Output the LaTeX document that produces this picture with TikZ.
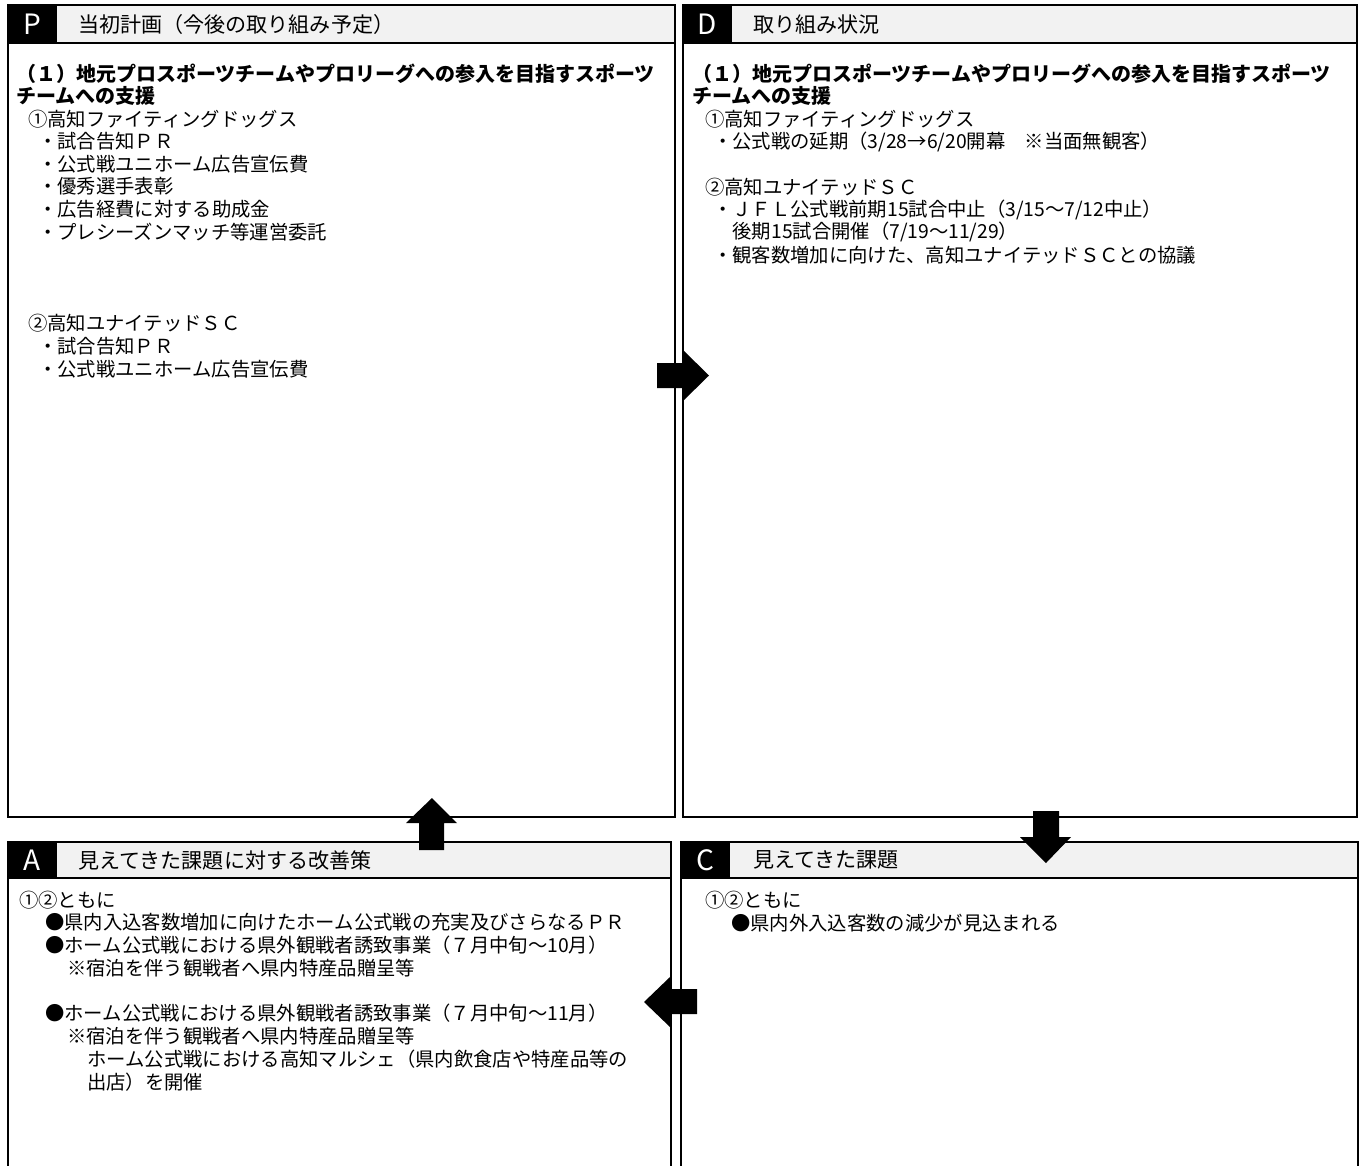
\documentclass[tikz,border=0pt]{standalone}
\usepackage{fontspec}
\setmainfont{Noto Sans CJK JP}
\usetikzlibrary{positioning}
\definecolor{headgray}{HTML}{F2F2F2}

\begin{document}
\begin{tikzpicture}[x=0.75pt,y=-0.75pt,
	frame/.style = {draw,line width=1.2pt},
	head/.style = {draw,line width=1.2pt,fill=headgray},
	tag/.style = {fill=black,text=white,inner sep=0pt,minimum width=36.75pt,minimum height=28.5pt,font=\fontsize{21}{21}\selectfont},
	title/.style = {anchor=west,inner sep=0pt,font=\fontsize{15.8}{18}\selectfont},
	txt/.style = {anchor=west,inner sep=0pt,font=\fontsize{14.5}{17}\selectfont},
	bold/.style = {anchor=west,inner sep=0pt,font=\fontsize{15}{17}\selectfont\bfseries}]
	\useasboundingbox (0,0) rectangle (1361,1165);

	% P: plan
	\draw [head] (8,5) rectangle (675,43);
	\draw [frame] (8,43) rectangle (675,817);
	\node (ptag) at (32.5,24) [tag] {P};
	\node (ptitle) at (78,24) [title] {当初計画（今後の取り組み予定）};
	\node (p1) at (16,74) [bold] {（１）地元プロスポーツチームやプロリーグへの参入を目指すスポーツ};
	\node (p2) at (16,96) [bold] {チームへの支援};
	\node (p3) at (28,119) [txt] {①高知ファイティングドッグス};
	\node (p4) at (38,141) [txt] {・試合告知ＰＲ};
	\node (p5) at (38,164) [txt] {・公式戦ユニホーム広告宣伝費};
	\node (p6) at (38,186) [txt] {・優秀選手表彰};
	\node (p7) at (38,209) [txt] {・広告経費に対する助成金};
	\node (p8) at (38,232) [txt] {・プレシーズンマッチ等運営委託};
	\node (p9) at (28,323) [txt] {②高知ユナイテッドＳＣ};
	\node (p10) at (38,346) [txt] {・試合告知ＰＲ};
	\node (p11) at (38,369) [txt] {・公式戦ユニホーム広告宣伝費};

	% D: do
	\draw [head] (683,5) rectangle (1357,43);
	\draw [frame] (683,43) rectangle (1357,817);
	\node (dtag) at (707.5,24) [tag] {D};
	\node (dtitle) at (753,24) [title] {取り組み状況};
	\node (d1) at (692,74) [bold] {（１）地元プロスポーツチームやプロリーグへの参入を目指すスポーツ};
	\node (d2) at (692,96) [bold] {チームへの支援};
	\node (d3) at (705,119) [txt] {①高知ファイティングドッグス};
	\node (d4) at (713,142) [txt] {・公式戦の延期（3/28→6/20開幕　※当面無観客）};
	\node (d5) at (705,187) [txt] {②高知ユナイテッドＳＣ};
	\node (d6) at (713,210) [txt] {・ＪＦＬ公式戦前期15試合中止（3/15～7/12中止）};
	\node (d7) at (713,232) [txt] {　後期15試合開催（7/19～11/29）};
	\node (d8) at (713,255) [txt] {・観客数増加に向けた、高知ユナイテッドＳＣとの協議};

	% A: act
	\draw [head] (8,842) rectangle (671,878);
	\draw [frame] (8,1170) -- (8,878) (671,878) -- (671,1170);
	\node (atag) at (32.5,860) [tag,minimum height=27pt] {A};
	\node (atitle) at (78,860) [title] {見えてきた課題に対する改善策};
	\node (a1) at (19,900) [txt] {①②ともに};
	\node (a2) at (45,922) [txt] {●県内入込客数増加に向けたホーム公式戦の充実及びさらなるＰＲ};
	\node (a3) at (45,945) [txt] {●ホーム公式戦における県外観戦者誘致事業（７月中旬～10月）};
	\node (a4) at (67,968) [txt] {※宿泊を伴う観戦者へ県内特産品贈呈等};
	\node (a5) at (45,1013) [txt] {●ホーム公式戦における県外観戦者誘致事業（７月中旬～11月）};
	\node (a6) at (67,1036) [txt] {※宿泊を伴う観戦者へ県内特産品贈呈等};
	\node (a7) at (87,1059) [txt] {ホーム公式戦における高知マルシェ（県内飲食店や特産品等の};
	\node (a8) at (87,1082) [txt] {出店）を開催};

	% C: check
	\draw [head] (681,842) rectangle (1358,878);
	\draw [frame] (681,1170) -- (681,878) (1358,878) -- (1358,1170);
	\node (ctag) at (705.5,860) [tag,minimum height=27pt] {C};
	\node (ctitle) at (753,860) [title] {見えてきた課題};
	\node (c1) at (705,900) [txt] {①②ともに};
	\node (c2) at (731,923) [txt] {●県内外入込客数の減少が見込まれる};

	% block arrows P -> D -> C -> A -> P
	\fill (657,363) -- (683,363) -- (683,350) -- (709,375.5) -- (683,401) -- (683,388) -- (657,388) -- cycle;
	\fill (1033,811) -- (1059,811) -- (1059,837) -- (1071,837) -- (1046,863) -- (1020,837) -- (1033,837) -- cycle;
	\fill (697,989) -- (697,1014) -- (670,1014) -- (670,1027) -- (644,1002) -- (670,977) -- (670,989) -- cycle;
	\fill (419,850) -- (444,850) -- (444,823) -- (457,823) -- (432,798) -- (406,823) -- (419,823) -- cycle;
\end{tikzpicture}
\end{document}
